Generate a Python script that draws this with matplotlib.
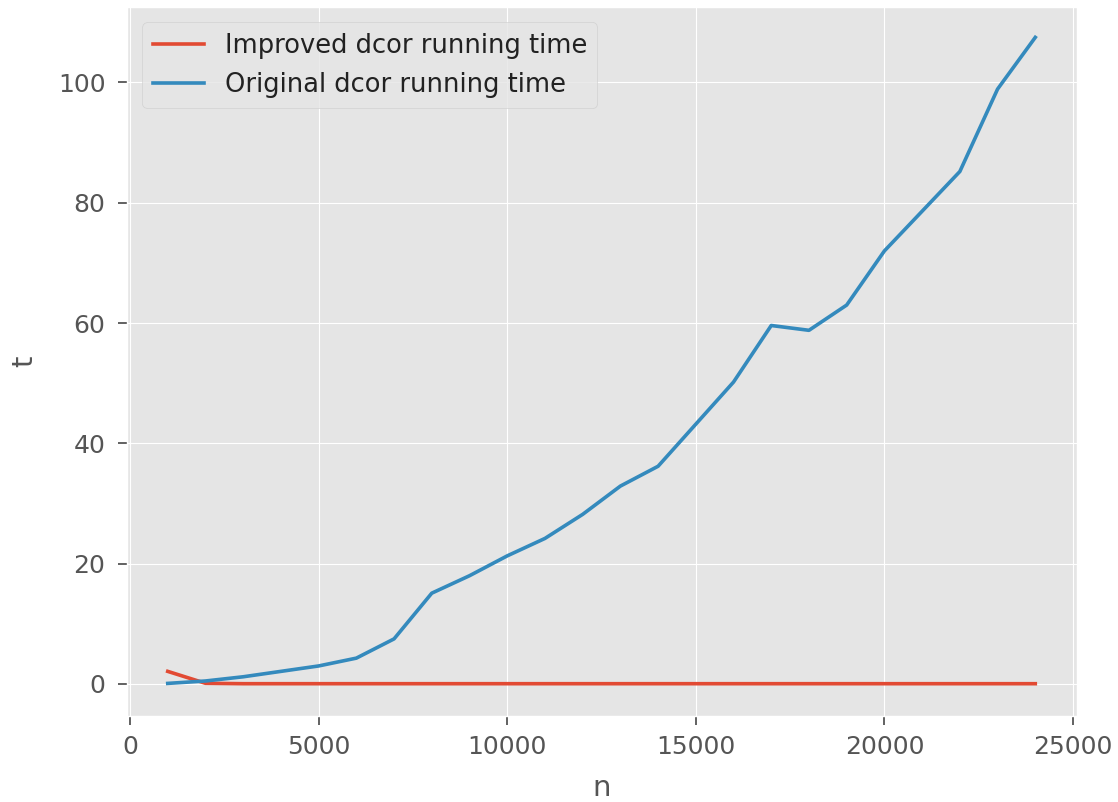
import matplotlib
matplotlib.use("Agg")
import matplotlib.pyplot as plt

plt.style.use("ggplot")

n = [1000, 2000, 3000, 4000, 5000, 6000, 7000, 8000, 9000, 10000, 11000, 12000,
     13000, 14000, 15000, 16000, 17000, 18000, 19000, 20000, 21000, 22000, 23000, 24000]
improved = [2.1, 0.12, 0.05, 0.05, 0.05, 0.05, 0.05, 0.05, 0.05, 0.05, 0.05, 0.05,
            0.05, 0.05, 0.05, 0.05, 0.05, 0.05, 0.05, 0.05, 0.05, 0.05, 0.05, 0.05]
original = [0.1, 0.5, 1.2, 2.1, 3.0, 4.3, 7.5, 15.1, 18.0, 21.3, 24.2, 28.2,
            32.9, 36.2, 43.2, 50.2, 59.6, 58.8, 63.0, 72.0, 78.6, 85.2, 98.9, 107.5]

fig = plt.figure(figsize=(11.18, 8.02), dpi=100)
ax = fig.add_axes([127/1118, 1 - 716/802, 950/1118, 709/802])
ax.plot(n, improved, label="Improved dcor running time", linewidth=2.6)
ax.plot(n, original, label="Original dcor running time", linewidth=2.6)
ax.set_xlim(-80, 25106)
ax.set_ylim(-5.32, 112.55)
ax.set_xticks([0, 5000, 10000, 15000, 20000, 25000])
ax.set_yticks([0, 20, 40, 60, 80, 100])
ax.tick_params(labelsize=18, length=6.5, width=1.3)
ax.tick_params(axis="y", pad=9)
ax.tick_params(axis="x", pad=7)
ax.set_xlabel("n", fontsize=21, labelpad=11)
ax.set_ylabel("t", fontsize=21, labelpad=14)
ax.legend(fontsize=18.5, loc="upper left", borderaxespad=0.6, labelcolor="#222222")
fig.savefig("out.png", dpi=100)
